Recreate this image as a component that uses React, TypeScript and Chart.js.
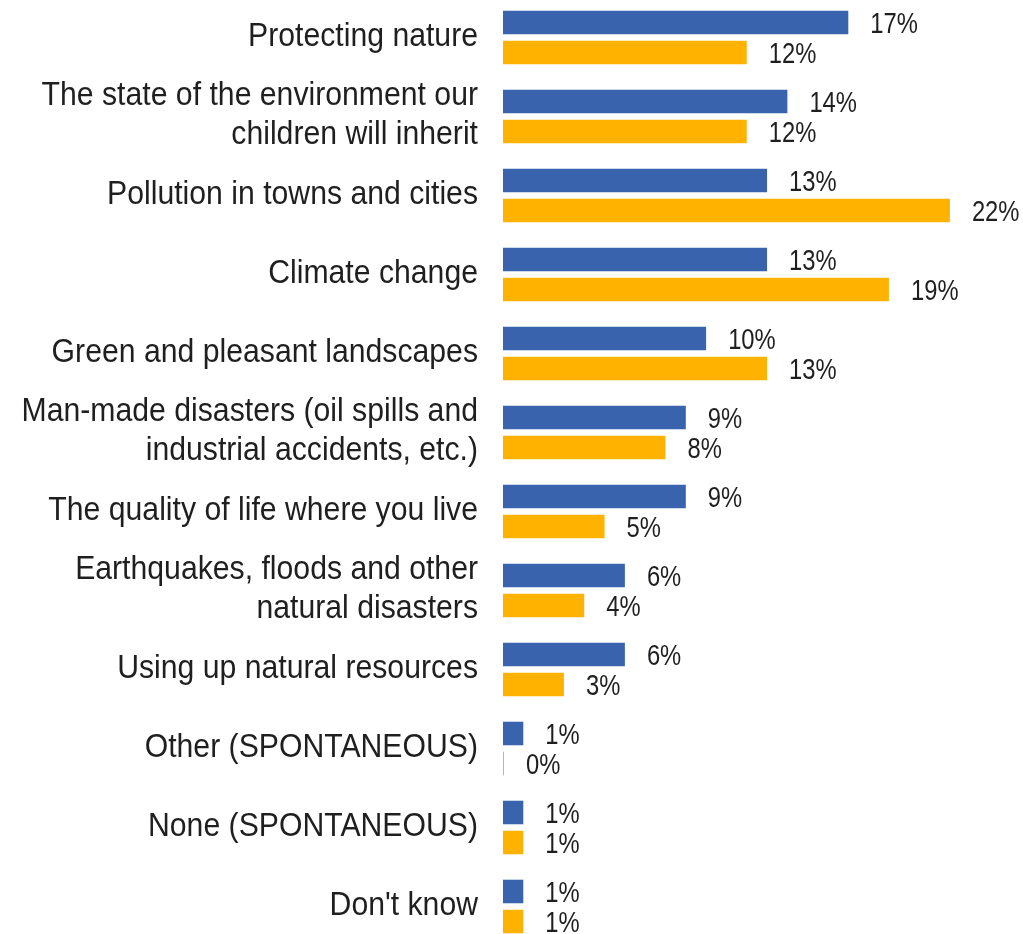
import React, { useEffect, useRef } from "react";
import { Chart, registerables } from "chart.js";

Chart.register(...registerables);

const categories: (string | string[])[] = [
  "Protecting nature",
  ["The state of the environment our", "children will inherit"],
  "Pollution in towns and cities",
  "Climate change",
  "Green and pleasant landscapes",
  ["Man-made disasters (oil spills and", "industrial accidents, etc.)"],
  "The quality of life where you live",
  ["Earthquakes, floods and other", "natural disasters"],
  "Using up natural resources",
  "Other (SPONTANEOUS)",
  "None (SPONTANEOUS)",
  "Don't know",
];

const seriesBlue = [17, 14, 13, 13, 10, 9, 9, 6, 6, 1, 1, 1];
const seriesOrange = [12, 12, 22, 19, 13, 8, 5, 4, 3, 0, 1, 1];

const BLUE = "#3A63AD";
const ORANGE = "#FFB300";
const TEXT = "#1F1F1F";
const LABEL_FONT = "'Liberation Sans', Arial, sans-serif";

// Value labels at bar ends (condensed look)
const valueLabels = {
  id: "valueLabels",
  afterDatasetsDraw(chart: any) {
    const ctx = chart.ctx;
    chart.data.datasets.forEach((ds: any, di: number) => {
      const meta = chart.getDatasetMeta(di);
      meta.data.forEach((el: any, i: number) => {
        const v = ds.data[i];
        const xEnd = Math.max(el.x, el.base);
        ctx.save();
        ctx.font = `29px ${LABEL_FONT}`;
        ctx.fillStyle = TEXT;
        ctx.textAlign = "left";
        ctx.textBaseline = "alphabetic";
        ctx.translate(xEnd + 22, el.y + 10.5);
        ctx.scale(0.82, 1);
        ctx.fillText(`${v}%`, 0, 0);
        ctx.restore();
      });
    });
  },
};

// Category labels, positioned by the y scale
const categoryLabels = {
  id: "categoryLabels",
  afterDraw(chart: any) {
    const ctx = chart.ctx;
    const yScale = chart.scales.y;
    const x = chart.chartArea.left - 25;
    const lineH = 39;
    chart.data.labels.forEach((lab: any, i: number) => {
      const lines: string[] = Array.isArray(lab) ? lab : [lab];
      const cy = yScale.getPixelForTick(i);
      const first = cy + 8.2 - ((lines.length - 1) * lineH) / 2;
      lines.forEach((line, li) => {
        ctx.save();
        ctx.font = `33px ${LABEL_FONT}`;
        ctx.fillStyle = TEXT;
        ctx.textAlign = "right";
        ctx.textBaseline = "alphabetic";
        ctx.translate(x, first + li * lineH);
        ctx.scale(0.915, 1);
        ctx.fillText(line, 0, 0);
        ctx.restore();
      });
    });
  },
};

export default function App() {
  const ref = useRef<HTMLCanvasElement | null>(null);

  useEffect(() => {
    if (!ref.current) return;
    const chart = new Chart(ref.current, {
      type: "bar",
      data: {
        labels: categories as any,
        datasets: [
          {
            label: "Blue",
            data: seriesBlue,
            backgroundColor: BLUE,
            categoryPercentage: 0.76,
            barPercentage: 0.785,
            minBarLength: 1,
          },
          {
            label: "Orange",
            data: seriesOrange,
            backgroundColor: ORANGE,
            categoryPercentage: 0.76,
            barPercentage: 0.785,
            minBarLength: 1,
          },
        ],
      },
      options: {
        indexAxis: "y",
        animation: false,
        responsive: true,
        maintainAspectRatio: false,
        layout: { padding: 0 },
        plugins: {
          legend: { display: false },
          tooltip: { enabled: false },
        },
        scales: {
          x: {
            display: false,
            min: 0,
            max: 25.6,
          },
          y: {
            grid: { display: false, drawTicks: false },
            border: { display: false },
            ticks: { display: false, autoSkip: false },
            afterFit(scale: any) {
              scale.width = 503;
              scale.paddingTop = 0;
              scale.paddingBottom = 0;
            },
          },
        },
      },
      plugins: [valueLabels, categoryLabels],
    });
    return () => chart.destroy();
  }, []);

  return (
    <div
      style={{
        position: "absolute",
        left: 0,
        top: 0,
        width: 1023,
        height: 934,
        overflow: "hidden",
        background: "#ffffff",
      }}
    >
      <div style={{ position: "absolute", left: 0, top: -2, width: 1023, height: 948 }}>
        <canvas ref={ref} />
      </div>
    </div>
  );
}
